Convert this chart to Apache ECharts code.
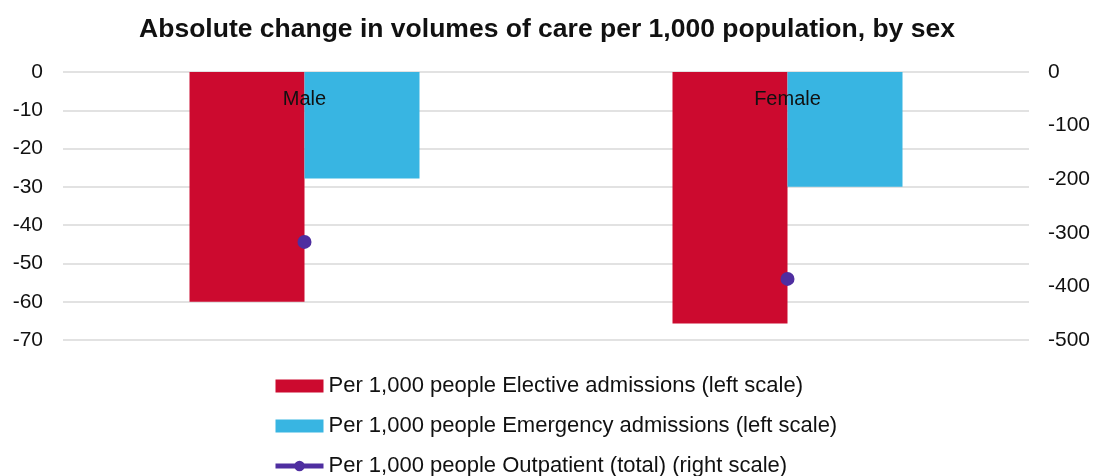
<!DOCTYPE html>
<html>
<head>
<meta charset="utf-8">
<script src="https://cdn.jsdelivr.net/npm/echarts@6/dist/echarts.min.js"></script>
<style>
  html, body { margin: 0; padding: 0; background: #fff; }
  #chart { width: 1094px; height: 476px; }
</style>
</head>
<body>
<div id="chart"></div>
<script>
// data
var categories = ['Male', 'Female'];
var elective = [-60, -65.7];
var emergency = [-27.8, -30];
var outpatient = [-317, -386];
var leftTicks = { min: -70, max: 0, interval: 10 };
var rightTicks = { min: -500, max: 0, interval: 100 };

var names = [
  'Per 1,000 people Elective admissions (left scale)',
  'Per 1,000 people Emergency admissions (left scale)',
  'Per 1,000 people Outpatient (total) (right scale)'
];

var textFont = 'Liberation Sans, Arial, sans-serif';

var option = {
  animation: false,
  backgroundColor: '#fff',
  textStyle: { fontFamily: textFont },
  title: {
    text: 'Absolute change in volumes of care per 1,000 population, by sex',
    left: 'center',
    top: 11,
    textStyle: { fontSize: 26.5, fontWeight: 'bold', color: '#111', fontFamily: textFont }
  },
  grid: { left: 63, right: 65, top: 72, bottom: 136 },
  legend: {
    orient: 'vertical',
    left: 268,
    top: 370,
    height: 110,
    itemWidth: 48,
    itemHeight: 13,
    itemGap: 18,
    textStyle: { fontSize: 22, color: '#111', fontFamily: textFont },
    data: [
      { name: names[0], icon: 'rect' },
      { name: names[1], icon: 'rect' },
      { name: names[2], lineStyle: { width: 5, opacity: 1, color: '#4f2ea0' } }
    ]
  },
  xAxis: {
    type: 'category',
    position: 'top',
    data: categories,
    z: 10,
    axisLine: { show: false },
    axisTick: { show: false },
    axisLabel: { inside: true, margin: 17, fontSize: 20, color: '#111' }
  },
  yAxis: [
    {
      type: 'value',
      min: leftTicks.min,
      max: leftTicks.max,
      interval: leftTicks.interval,
      axisLabel: { fontSize: 21, color: '#111', margin: 20 },
      splitLine: { lineStyle: { color: '#d9d9d9', width: 1.5 } }
    },
    {
      type: 'value',
      min: rightTicks.min,
      max: rightTicks.max,
      interval: rightTicks.interval,
      position: 'right',
      axisLabel: { fontSize: 21, color: '#111', margin: 19 },
      splitLine: { show: false }
    }
  ],
  series: [
    {
      name: names[0],
      type: 'bar',
      barWidth: 115,
      barGap: 0,
      itemStyle: { color: '#cc0a2f' },
      data: elective
    },
    {
      name: names[1],
      type: 'bar',
      barWidth: 115,
      barGap: 0,
      itemStyle: { color: '#38b5e2' },
      data: emergency
    },
    {
      name: names[2],
      type: 'line',
      yAxisIndex: 1,
      symbol: 'circle',
      symbolSize: 14,
      itemStyle: { color: '#4f2ea0' },
      lineStyle: { width: 0, opacity: 0 },
      z: 5,
      data: outpatient
    }
  ]
};

var myChart = echarts.init(document.getElementById('chart'));
myChart.setOption(option);
</script>
</body>
</html>
